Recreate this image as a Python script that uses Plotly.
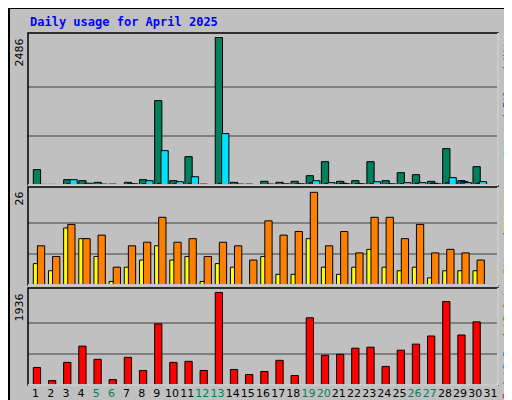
import plotly.graph_objects as go

days = list(range(1, 32))
day_labels = [str(d) for d in days]
weekend = [5, 6, 12, 13, 19, 20, 26, 27]
hits = [259, 10, 90, 73, 45, 15, 45, 90, 1422, 73, 478, 15, 2486, 45, 15, 62, 45, 62, 157, 393, 62, 73, 393, 73, 208, 174, 62, 613, 73, 309, 0]
files = [10, 5, 90, 30, 15, 5, 20, 73, 579, 56, 140, 5, 866, 15, 5, 15, 20, 20, 73, 40, 20, 20, 56, 20, 40, 40, 20, 124, 40, 56, 0]
pages = [8, 5, 20, 15, 10, 5, 20, 20, 30, 20, 20, 5, 30, 10, 5, 10, 10, 15, 40, 20, 30, 20, 20, 15, 20, 30, 30, 40, 56, 30, 0]
sites = [11, 8, 17, 13, 14, 5, 11, 12, 19, 12, 13, 8, 12, 11, 7, 18, 14, 15, 26, 11, 15, 9, 19, 19, 13, 17, 9, 10, 9, 7, 0]
visits = [6, 4, 16, 13, 8, 1, 5, 7, 11, 7, 8, 1, 6, 5, 0, 8, 3, 3, 13, 5, 3, 5, 10, 5, 4, 5, 2, 4, 4, 4, 0]
kbytes = [367, 92, 473, 813, 537, 113, 579, 304, 1279, 473, 495, 304, 1936, 325, 219, 283, 516, 198, 1406, 622, 643, 770, 791, 389, 728, 855, 1025, 1745, 1046, 1321, 0]

GREEN, BLUE, CYAN = "#00805C", "#0040FF", "#00E0FF"
YEL, ORG, RED = "#FFFF00", "#FF8000", "#FF0000"
line = dict(color="black", width=1)

fig = go.Figure()
def bar(y, color, off, ax):
    fig.add_trace(go.Bar(x=days, y=y, marker=dict(color=color, line=line), width=0.48,
                         offset=off, xaxis="x" + ax, yaxis="y" + ax))
bar(hits, GREEN, -0.15, "")
bar(pages, BLUE, 0.05, "")
bar(files, CYAN, 0.27, "")
bar(visits, YEL, -0.15, "2")
bar(sites, ORG, 0.12, "2")
bar(kbytes, RED, -0.15, "3")

H = 400
def dom(t, b):
    return [(H - 23 - b) / 352, (H - 23 - t) / 352]

mx1, mx2, mx3 = 2486, 26, 1936
ax = dict(showgrid=False, zeroline=False, showticklabels=False, ticks="", range=[0.5, 31.5],
          fixedrange=True, automargin=False)
ya = dict(zeroline=False, showticklabels=False, ticks="", gridcolor="#808080", gridwidth=1.5, automargin=False)
ticktext = [f"<span style='color:{GREEN if d in weekend else 'black'}'>{d}</span>" for d in days]
fig.update_layout(
    width=512, height=400, margin=dict(l=20, r=22, t=25, b=23),
    paper_bgcolor="#C0C0C0", plot_bgcolor="#C0C0C0", showlegend=False, barmode="overlay",
    font=dict(family="DejaVu Sans Mono", size=11, color="black"),
    xaxis=dict(ax, anchor="y", domain=[0, 1]),
    xaxis2=dict(ax, anchor="y2", domain=[0, 1]),
    xaxis3=dict(ax, anchor="y3", domain=[0, 1], showticklabels=True, tickvals=days, ticktext=ticktext,
                tickangle=0, tickfont=dict(family="DejaVu Sans", size=11)),
    yaxis=dict(ya, domain=dom(25, 177), range=[0, mx1 * 152 / 147.5], tickvals=[mx1 / 3, 2 * mx1 / 3]),
    yaxis2=dict(ya, domain=dom(179, 277), range=[0, mx2 * 97.3 / 92], tickvals=[mx2 / 3, 2 * mx2 / 3]),
    yaxis3=dict(ya, domain=dom(280, 377), range=[0, mx3 * 95.7 / 91.3], tickvals=[mx3 / 3, 2 * mx3 / 3]),
)

shapes = [
    dict(type="rect", xref="paper", yref="paper", x0=-19/470, x1=490/470, y0=-22/352, y1=377/352,
         line=dict(color="black", width=2), layer="below"),
]
for t, b in [(25, 177), (179, 277), (280, 377)]:
    d = dom(t, b)
    shapes.append(dict(type="rect", xref="paper", yref="paper", x0=0, x1=1, y0=d[0], y1=d[1],
                       line=dict(color="black", width=1.5)))
    shapes.append(dict(type="line", xref="paper", yref="paper", x0=0, x1=1, y0=d[0], y1=d[0],
                       line=dict(color="white", width=1.5)))
    shapes.append(dict(type="line", xref="paper", yref="paper", x0=1, x1=1, y0=d[0], y1=d[1],
                       line=dict(color="white", width=1.5)))
fig.update_layout(shapes=shapes)

ann = [
    dict(text="<b>Daily usage for April 2025</b>", x=0, y=1, xref="paper", yref="paper", xanchor="left",
         yanchor="bottom", yshift=2, showarrow=False, font=dict(color="#0000FF", size=12)),
]
for val, t in [(str(mx1), 25), (str(mx2), 179), (str(mx3), 280)]:
    ann.append(dict(text=val, textangle=-90, x=0, xref="paper", y=dom(t, t + 1)[1], yref="paper",
                    xanchor="right", yanchor="top", xshift=-1, yshift=-3, showarrow=False,
                    font=dict(family="DejaVu Sans", size=11)))
def sp(t, c):
    return f"<span style='color:{c}'>{t}</span>"
right = [
    (sp("Pages", CYAN) + " / " + sp("Files", BLUE) + " / " + sp("Hits", GREEN), 25, 177),
    (sp("Sites", ORG) + " / " + sp("Visits", YEL), 179, 277),
    (sp("kB F", RED) + " / " + sp("kB In", "#0080FF") + " / " + sp("kB Out", "#00C000"), 280, 377),
]
for txt, t, b in right:
    ann.append(dict(text=txt, textangle=-90, x=1, xref="paper", y=dom(t, b)[1], yref="paper",
                    xanchor="left", yanchor="top", xshift=1, yshift=-2, showarrow=False,
                    font=dict(size=10, color="#404040")))
fig.update_layout(annotations=ann)
fig.write_html("out.html")
